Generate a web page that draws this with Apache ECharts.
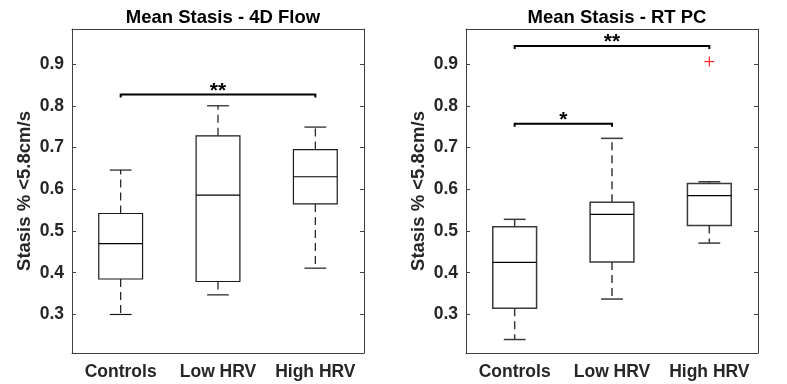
<!DOCTYPE html>
<html>
<head>
<meta charset="utf-8">
<script src="https://cdn.jsdelivr.net/npm/echarts@6/dist/echarts.min.js"></script>
<style>
html, body { margin: 0; padding: 0; background: #fff; }
#chart { width: 787px; height: 384px; }
</style>
</head>
<body>
<div id="chart"></div>
<script>
var categories = ['Controls', 'Low HRV', 'High HRV'];
var yTicks = [0.3, 0.4, 0.5, 0.6, 0.7, 0.8, 0.9];

// [lower whisker, Q1, median, Q3, upper whisker]
var flow4dStats = [
	[0.300, 0.385, 0.470, 0.542, 0.646],
	[0.347, 0.379, 0.586, 0.728, 0.800],
	[0.411, 0.565, 0.630, 0.695, 0.749]
];
var rtpcStats = [
	[0.240, 0.315, 0.425, 0.510, 0.528],
	[0.337, 0.426, 0.540, 0.569, 0.722],
	[0.471, 0.513, 0.585, 0.614, 0.618]
];
var rtpcOutliers = [[2, 0.906]];

// [from category, to category, height, label]
var flow4dSig = [[0, 2, 0.827, '**']];
var rtpcSig = [[0, 2, 0.943, '**'], [0, 1, 0.757, '*']];

var yMin = 0.2077, yMax = 0.984;
var font = '"Liberation Sans", Arial, sans-serif';
var axisColor = '#404040';
var textColor = '#262626';

function boxData(stats) {
	return stats.map(function(s, i) { return [i].concat(s); });
}

function renderBox(lineColor, lineWidth) {
	return function(params, api) {
		var idx = api.value(0);
		var band = api.size([1, 0])[0];
		var half = band * 0.225;
		var capHalf = band * 0.112;
		var x = api.coord([idx, 0])[0];
		var yLo = api.coord([idx, api.value(1)])[1];
		var yQ1 = api.coord([idx, api.value(2)])[1];
		var yMed = api.coord([idx, api.value(3)])[1];
		var yQ3 = api.coord([idx, api.value(4)])[1];
		var yHi = api.coord([idx, api.value(5)])[1];
		var solid = { stroke: lineColor, lineWidth: lineWidth, fill: null };
		var dashed = { stroke: lineColor, lineWidth: lineWidth, lineDash: [8, 5] };
		return {
			type: 'group',
			children: [
				{ type: 'line', shape: { x1: x, y1: yQ3, x2: x, y2: yHi }, style: dashed },
				{ type: 'line', shape: { x1: x, y1: yQ1, x2: x, y2: yLo }, style: dashed },
				{ type: 'line', shape: { x1: x - capHalf, y1: yHi, x2: x + capHalf, y2: yHi }, style: solid },
				{ type: 'line', shape: { x1: x - capHalf, y1: yLo, x2: x + capHalf, y2: yLo }, style: solid },
				{ type: 'rect', shape: { x: x - half, y: yQ3, width: half * 2, height: yQ1 - yQ3 }, style: { stroke: lineColor, lineWidth: lineWidth, fill: '#fff' } },
				{ type: 'line', shape: { x1: x - half, y1: yMed, x2: x + half, y2: yMed }, style: { stroke: '#000', lineWidth: 1.2 } }
			]
		};
	};
}

function renderSig(params, api) {
	var a = api.coord([api.value(0), api.value(2)]);
	var b = api.coord([api.value(1), api.value(2)]);
	var label = api.value(3);
	return {
		type: 'group',
		children: [
			{ type: 'polyline', shape: { points: [[a[0], a[1] + 3], [a[0], a[1]], [b[0], b[1]], [b[0], b[1] + 3]] },
				style: { stroke: '#000', lineWidth: 2, fill: null } },
			{ type: 'text', x: (a[0] + b[0]) / 2, y: a[1] + 7,
				style: { text: label, fill: '#000', font: 'bold 21px ' + font, align: 'center', verticalAlign: 'bottom' } }
		]
	};
}

function renderPlus(params, api) {
	var p = api.coord([api.value(0), api.value(1)]);
	var r = 5;
	var st = { stroke: '#ff2020', lineWidth: 1.2 };
	return {
		type: 'group',
		children: [
			{ type: 'line', shape: { x1: p[0] - r, y1: p[1], x2: p[0] + r, y2: p[1] }, style: st },
			{ type: 'line', shape: { x1: p[0], y1: p[1] - r, x2: p[0], y2: p[1] + r }, style: st }
		]
	};
}

function bottomX(gi) {
	return {
		type: 'category', gridIndex: gi, data: categories, position: 'bottom',
		axisLine: { lineStyle: { color: axisColor, width: 1 } },
		axisTick: { inside: true, length: 4, alignWithLabel: true, lineStyle: { color: axisColor } },
		axisLabel: { interval: 0, hideOverlap: false, color: textColor, fontFamily: font, fontWeight: 'bold', fontSize: 17.5, margin: 10 }
	};
}
function topX(gi) {
	return {
		type: 'category', gridIndex: gi, data: categories, position: 'top',
		axisLine: { lineStyle: { color: axisColor, width: 1 } },
		axisTick: { inside: true, length: 4, alignWithLabel: true, lineStyle: { color: axisColor } },
		axisLabel: { show: false }
	};
}
function leftY(gi) {
	return {
		type: 'value', gridIndex: gi, min: yMin, max: yMax, position: 'left',
		name: 'Stasis % <5.8cm/s', nameLocation: 'middle', nameGap: 38, nameRotate: 90,
		nameTextStyle: { color: textColor, fontFamily: font, fontWeight: 'bold', fontSize: 18.5 },
		splitLine: { show: false },
		axisLine: { show: true, lineStyle: { color: axisColor, width: 1 } },
		axisTick: { show: true, inside: true, length: 4, customValues: yTicks, lineStyle: { color: axisColor } },
		axisLabel: { customValues: yTicks, color: textColor, fontFamily: font, fontWeight: 'bold', fontSize: 17.5, margin: 8,
			formatter: function(v) { return v.toFixed(1); } }
	};
}
function rightY(gi) {
	return {
		type: 'value', gridIndex: gi, min: yMin, max: yMax, position: 'right',
		splitLine: { show: false },
		axisLine: { show: true, lineStyle: { color: axisColor, width: 1 } },
		axisTick: { show: true, inside: true, length: 4, customValues: yTicks, lineStyle: { color: axisColor } },
		axisLabel: { show: false }
	};
}

var chart = echarts.init(document.getElementById('chart'), null, { renderer: 'canvas' });

var option = {
	backgroundColor: '#fff',
	animation: false,
	title: [
		{ text: 'Mean Stasis - 4D Flow', left: 218, top: 3, textAlign: 'center',
			textStyle: { color: '#000', fontFamily: font, fontWeight: 'bold', fontSize: 18.5 } },
		{ text: 'Mean Stasis - RT PC', left: 612, top: 3, textAlign: 'center',
			textStyle: { color: '#000', fontFamily: font, fontWeight: 'bold', fontSize: 18.5 } }
	],
	grid: [
		{ left: 72, top: 29, width: 292, height: 324 },
		{ left: 466, top: 29, width: 292, height: 324 }
	],
	xAxis: [bottomX(0), topX(0), bottomX(1), topX(1)],
	yAxis: [leftY(0), rightY(0), leftY(1), rightY(1)],
	series: [
		{ type: 'custom', xAxisIndex: 0, yAxisIndex: 0, data: boxData(flow4dStats), renderItem: renderBox('#1a1a1a', 1.2) },
		{ type: 'custom', xAxisIndex: 0, yAxisIndex: 0, data: flow4dSig, renderItem: renderSig },
		{ type: 'custom', xAxisIndex: 2, yAxisIndex: 2, data: boxData(rtpcStats), renderItem: renderBox('#3a3a3a', 1.5) },
		{ type: 'custom', xAxisIndex: 2, yAxisIndex: 2, data: rtpcSig, renderItem: renderSig },
		{ type: 'custom', xAxisIndex: 2, yAxisIndex: 2, data: rtpcOutliers, renderItem: renderPlus }
	]
};

chart.setOption(option);
</script>
</body>
</html>
